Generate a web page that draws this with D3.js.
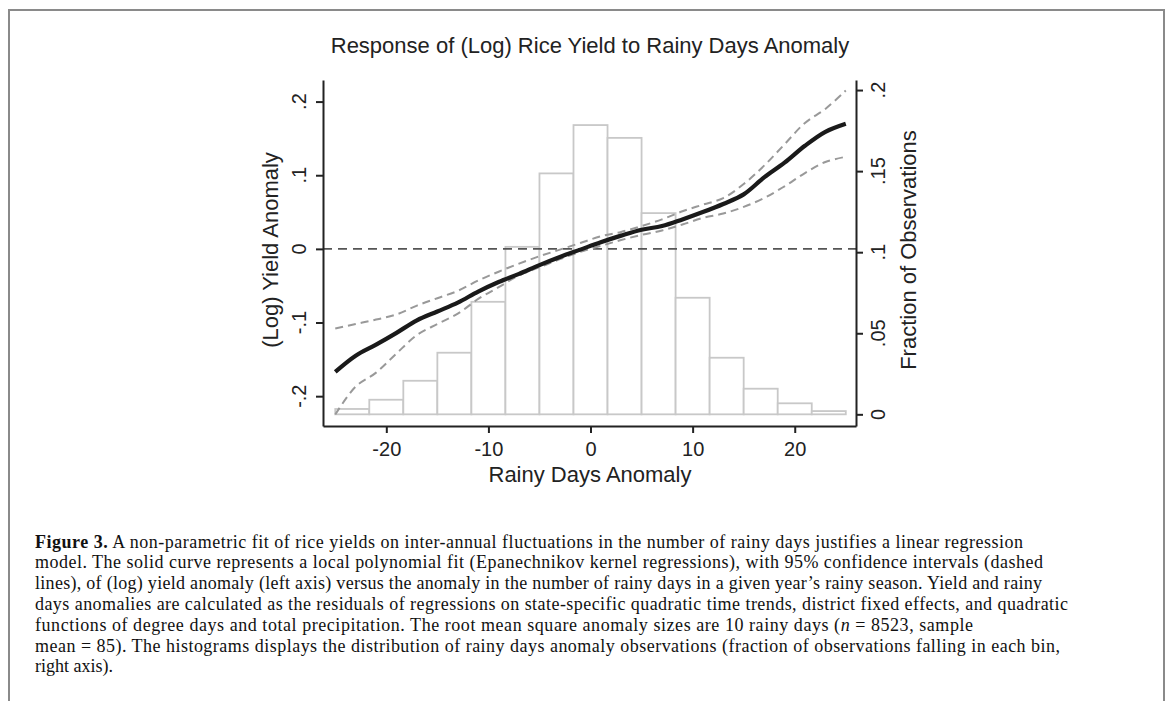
<!DOCTYPE html>
<html>
<head>
<meta charset="utf-8">
<script src="https://cdn.jsdelivr.net/npm/d3@7"></script>
<style>
  body { margin: 0; background: #fff; overflow: hidden; }
  svg { display: block; }
</style>
</head>
<body>
<script>
// histogram: bins of width 10/3 from -25 to 25, fraction of observations
const binEdges = [-25, -21.667, -18.333, -15, -11.667, -8.333, -5, -1.667, 1.667, 5, 8.333, 11.667, 15, 18.333, 21.667, 25];
const binFrac = [0.0033, 0.009, 0.0207, 0.038, 0.0694, 0.1033, 0.1486, 0.1784, 0.1705, 0.1241, 0.0719, 0.0349, 0.0158, 0.0068, 0.002];

// local polynomial fit and 95% CI
const fitX = [-25, -23, -21, -19, -17, -15, -13, -11, -9, -7, -5, -3, -1, 1, 3, 5, 7, 9, 11, 13, 15, 17, 19, 21, 23, 25];
const fitY = [-0.167, -0.145, -0.130, -0.114, -0.097, -0.085, -0.073, -0.058, -0.045, -0.034, -0.022, -0.011, -0.001, 0.009, 0.018, 0.026, 0.031, 0.040, 0.050, 0.061, 0.074, 0.097, 0.117, 0.140, 0.159, 0.170];
const ciHi = [-0.108, -0.102, -0.096, -0.089, -0.077, -0.067, -0.057, -0.043, -0.031, -0.020, -0.010, -0.001, 0.008, 0.017, 0.023, 0.031, 0.040, 0.051, 0.060, 0.069, 0.088, 0.113, 0.142, 0.171, 0.190, 0.215];
const ciLo = [-0.225, -0.187, -0.168, -0.142, -0.117, -0.102, -0.088, -0.068, -0.052, -0.036, -0.025, -0.014, -0.004, 0.004, 0.012, 0.019, 0.025, 0.033, 0.042, 0.048, 0.057, 0.069, 0.085, 0.103, 0.118, 0.125];

const xTicks = [-20, -10, 0, 10, 20];
const xTickLabels = ["-20", "-10", "0", "10", "20"];
const yTicks = [-0.2, -0.1, 0, 0.1, 0.2];
const yTickLabels = ["-.2", "-.1", "0", ".1", ".2"];
const rTicks = [0, 0.05, 0.1, 0.15, 0.2];
const rTickLabels = ["0", ".05", ".1", ".15", ".2"];

const captionLines = [
  [["b", "Figure 3."], ["", " A non-parametric fit of rice yields on inter-annual fluctuations in the number of rainy days justifies a linear regression"]],
  [["", "model. The solid curve represents a local polynomial fit (Epanechnikov kernel regressions), with 95% confidence intervals (dashed"]],
  [["", "lines), of (log) yield anomaly (left axis) versus the anomaly in the number of rainy days in a given year\u2019s rainy season. Yield and rainy"]],
  [["", "days anomalies are calculated as the residuals of regressions on state-specific quadratic time trends, district fixed effects, and quadratic"]],
  [["", "functions of degree days and total precipitation. The root mean square anomaly sizes are 10 rainy days ("], ["i", "n"], ["", " = 8523, sample"]],
  [["", "mean = 85). The histograms displays the distribution of rainy days anomaly observations (fraction of observations falling in each bin,"]],
  [["", "right axis)."]]
];
// measured line lengths of the caption (px)
const captionWidths = [988, 1008, 1007, 1033, 938, 1025, null];

const W = 1171, H = 701;
const svg = d3.select("body").append("svg").attr("width", W).attr("height", H);

// outer frame
svg.append("rect")
  .attr("x", 9).attr("y", 10).attr("width", 1155).attr("height", 720)
  .attr("fill", "none").attr("stroke", "#8a8a8a").attr("stroke-width", 2);

const pLeft = 323, pRight = 856, pTop = 80, pBottom = 426;
const sans = "'Liberation Sans', Arial, sans-serif";

const x = d3.scaleLinear().domain([-26.2, 26.0]).range([pLeft, pRight]);
const yL = d3.scaleLinear().domain([-0.2405, 0.2293]).range([pBottom, pTop]);
const yR = d3.scaleLinear().domain([-0.0072, 0.2062]).range([pBottom, pTop]);

// histogram bars
const bars = binFrac.map((f, i) => ({ x0: binEdges[i], x1: binEdges[i + 1], f: f }));
svg.append("g").selectAll("rect")
  .data(bars)
  .enter()
  .append("rect")
  .attr("x", d => x(d.x0))
  .attr("y", d => yR(d.f))
  .attr("width", d => x(d.x1) - x(d.x0))
  .attr("height", d => yR(0) - yR(d.f))
  .attr("fill", "#fff")
  .attr("stroke", "#c8c8c8")
  .attr("stroke-width", 1.8);

// zero reference line
svg.append("line")
  .attr("x1", pLeft).attr("x2", pRight)
  .attr("y1", yL(0)).attr("y2", yL(0))
  .attr("stroke", "#555").attr("stroke-width", 1.6)
  .attr("stroke-dasharray", "9,6");

const line = d3.line()
  .x((d, i) => x(fitX[i]))
  .y(d => yL(d))
  .curve(d3.curveCatmullRom);

// confidence bands
[ciHi, ciLo].forEach(s => {
  svg.append("path")
    .attr("d", line(s))
    .attr("fill", "none")
    .attr("stroke", "#999")
    .attr("stroke-width", 2)
    .attr("stroke-dasharray", "8,5");
});

// fitted curve
svg.append("path")
  .attr("d", line(fitY))
  .attr("fill", "none")
  .attr("stroke", "#1a1a1a")
  .attr("stroke-width", 4.2)
  .attr("stroke-linejoin", "round");

// axes
const axisColor = "#222";
const gx = svg.append("g").attr("transform", "translate(0," + pBottom + ")")
  .call(d3.axisBottom(x).tickValues(xTicks).tickSize(7).tickSizeOuter(0).tickFormat((d, i) => xTickLabels[i]));
const gl = svg.append("g").attr("transform", "translate(" + pLeft + ",0)")
  .call(d3.axisLeft(yL).tickValues(yTicks).tickSize(7).tickSizeOuter(0).tickFormat(""));
const gr = svg.append("g").attr("transform", "translate(" + pRight + ",0)")
  .call(d3.axisRight(yR).tickValues(rTicks).tickSize(7).tickSizeOuter(0).tickFormat(""));

[gx, gl, gr].forEach(g => {
  g.select(".domain").attr("stroke", axisColor).attr("stroke-width", 2);
  g.selectAll(".tick line").attr("stroke", axisColor).attr("stroke-width", 2);
});
gx.selectAll(".tick text")
  .attr("font-family", sans).attr("font-size", 20).attr("fill", "#222")
  .attr("dy", "0").attr("y", 30);

// rotated tick labels (Stata style)
svg.append("g").selectAll("text")
  .data(yTicks)
  .enter()
  .append("text")
  .attr("transform", d => "translate(306," + yL(d) + ") rotate(-90)")
  .attr("text-anchor", "middle")
  .attr("font-family", sans).attr("font-size", 20).attr("fill", "#222")
  .text((d, i) => yTickLabels[i]);

svg.append("g").selectAll("text")
  .data(rTicks)
  .enter()
  .append("text")
  .attr("transform", d => "translate(885," + yR(d) + ") rotate(-90)")
  .attr("text-anchor", "middle")
  .attr("font-family", sans).attr("font-size", 20).attr("fill", "#222")
  .text((d, i) => rTickLabels[i]);

// titles
svg.append("text")
  .attr("x", 590).attr("y", 53)
  .attr("text-anchor", "middle")
  .attr("font-family", sans).attr("font-size", 22).attr("fill", "#222")
  .text("Response of (Log) Rice Yield to Rainy Days Anomaly");

svg.append("text")
  .attr("x", 590).attr("y", 482)
  .attr("text-anchor", "middle")
  .attr("font-family", sans).attr("font-size", 22).attr("fill", "#222")
  .text("Rainy Days Anomaly");

svg.append("text")
  .attr("transform", "translate(278,250) rotate(-90)")
  .attr("text-anchor", "middle")
  .attr("font-family", sans).attr("font-size", 22).attr("fill", "#222")
  .text("(Log) Yield Anomaly");

svg.append("text")
  .attr("transform", "translate(916,250) rotate(-90)")
  .attr("text-anchor", "middle")
  .attr("font-family", sans).attr("font-size", 22).attr("fill", "#222")
  .text("Fraction of Observations");

// caption
const cap = svg.append("g").attr("font-family", "'Liberation Serif', 'Times New Roman', serif")
  .attr("font-size", 18).attr("fill", "#111");
captionLines.forEach((parts, li) => {
  const t = cap.append("text").attr("x", 35).attr("y", 547.5 + li * 20.8);
  if (captionWidths[li]) t.attr("textLength", captionWidths[li]).attr("lengthAdjust", "spacing");
  parts.forEach(p => {
    t.append("tspan")
      .attr("font-weight", p[0] === "b" ? "bold" : null)
      .attr("font-style", p[0] === "i" ? "italic" : null)
      .text(p[1]);
  });
});
</script>
</body>
</html>
